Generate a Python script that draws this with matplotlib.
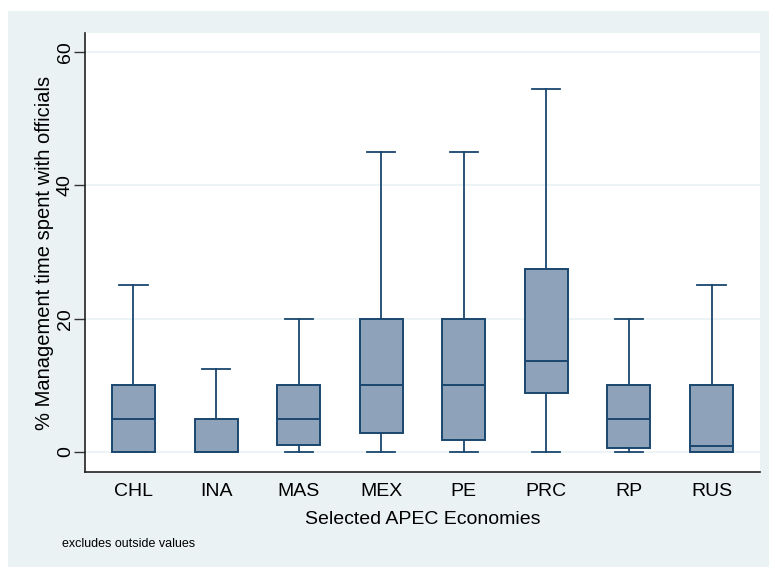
import matplotlib.pyplot as plt
from matplotlib.patches import Rectangle

# box plot summaries (outside values excluded)
economies = ["CHL", "INA", "MAS", "MEX", "PE", "PRC", "RP", "RUS"]
whisker_low = [0, 0, 0, 0, 0, 0, 0, 0]
q1 = [0, 0, 1, 2.9, 1.8, 8.9, 0.6, 0]
median = [5, 0, 5, 10, 10, 13.6, 5, 0.9]
q3 = [10, 5, 10, 20, 20, 27.4, 10, 10]
whisker_high = [25, 12.4, 20, 45, 45, 54.5, 20, 25]

navy = "#1a476f"
fill = "#8ea3b9"
bg = "#eaf2f3"

plt.rcParams["font.family"] = ["Liberation Sans", "DejaVu Sans"]

fig = plt.figure(figsize=(7.69, 5.67), dpi=100)
fig.patch.set_facecolor("white")
fig.patches.append(Rectangle((8 / 769, 0), 1, (567 - 11) / 567,
                             transform=fig.transFigure, facecolor=bg,
                             edgecolor="none", zorder=-10))

ax = fig.add_axes([85 / 769, (567 - 472) / 567, (760 - 85) / 769, (472 - 33) / 567])
ax.set_facecolor("white")

stats = []
for i, name in enumerate(economies):
    stats.append({"label": name, "whislo": whisker_low[i], "q1": q1[i],
                  "med": median[i], "q3": q3[i], "whishi": whisker_high[i],
                  "fliers": []})

positions = list(range(1, len(economies) + 1))
ax.bxp(stats, positions=positions, widths=0.52, showfliers=False,
       patch_artist=True,
       boxprops=dict(facecolor=fill, edgecolor=navy, linewidth=1.4),
       medianprops=dict(color=navy, linewidth=1.4),
       whiskerprops=dict(color=navy, linewidth=1.3),
       capprops=dict(color=navy, linewidth=1.3),
       capwidths=0.34)

ax.set_xlim(0.413, 8.587)
ax.set_ylim(-3.0, 62.85)
ax.set_yticks([0, 20, 40, 60])
ax.set_yticklabels(["0", "20", "40", "60"], rotation=90, va="center", fontsize=14)
ax.set_xticks(positions)
ax.set_xticklabels(economies, fontsize=14)
ax.yaxis.grid(True, color=bg, linewidth=1.2)
ax.set_axisbelow(True)
ax.tick_params(axis="y", direction="out", length=8, width=1, color="#333333", pad=0)
ax.tick_params(axis="x", length=0, pad=8)

for side in ["top", "right"]:
    ax.spines[side].set_visible(False)
for side in ["left", "bottom"]:
    ax.spines[side].set_color("#222222")
    ax.spines[side].set_linewidth(1.2)

ax.set_xlabel("Selected APEC Economies", fontsize=14, labelpad=8)
ax.set_ylabel("% Management time spent with officials", fontsize=14.5, labelpad=2)

fig.text(62 / 769, 1 - 544 / 567, "excludes outside values", fontsize=9,
         va="center", ha="left")

fig.savefig("out.png", dpi=100)
